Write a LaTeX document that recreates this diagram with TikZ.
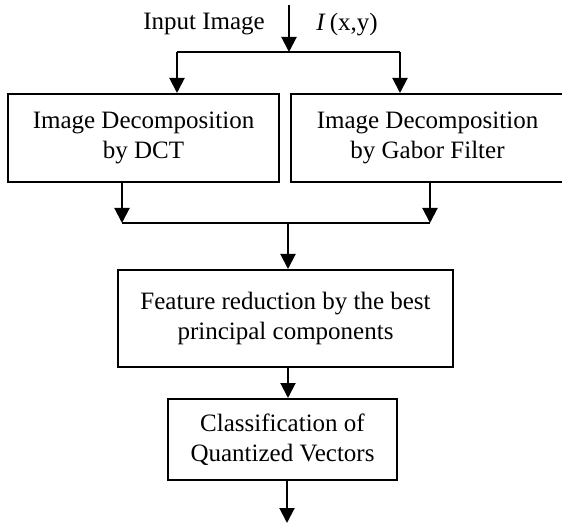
\documentclass[tikz,border=0pt]{standalone}
\usepackage{fontspec}
\setmainfont{Liberation Serif}
\usetikzlibrary{arrows.meta}
\begin{document}
\begin{tikzpicture}[x=1pt,y=-1pt,
  conn/.style={line width=2pt},
  arr/.style={conn,-{Triangle[length=15pt,width=15pt]}},
  blk/.style={draw,line width=2pt,align=center,inner sep=0pt,font=\fontsize{25}{30}\selectfont},
  lbl/.style={font=\fontsize{25}{30}\selectfont,inner sep=0pt}]
\clip (0,0) rectangle (562,526);
\node[blk,minimum width=271pt,minimum height=88pt] (dct) at (143.5,138) {Image Decomposition\\by DCT};
\node[blk,minimum width=273pt,minimum height=88pt] (gab) at (427.5,138) {Image Decomposition\\by Gabor Filter};
\node[blk,minimum width=335pt,minimum height=97pt] (fr) at (285.5,318.5) {Feature reduction by the best\\principal components};
\node[blk,minimum width=229pt,minimum height=81pt] (cl) at (282.5,439.5) {Classification of\\Quantized Vectors};
\node[lbl] (inlbl) at (204,24) {Input Image};
\node[lbl] (ixy) at (347,25) {\textit{I}\,(x,y)};
\coordinate (src) at (289,5);
\coordinate (sp) at (289,52);
\coordinate (spL) at (177,52);
\coordinate (spR) at (400,52);
\draw[arr] (src) -- (sp);
\draw[conn] (spL) -- (spR);
\draw[arr] (spL) -- (spL |- dct.north);
\draw[arr] (spR) -- (spR |- gab.north);
\coordinate (mL) at (122,223);
\coordinate (mR) at (430,223);
\coordinate (mC) at (288,223);
\draw[arr] (mL |- dct.south) -- (mL);
\draw[arr] (mR |- gab.south) -- (mR);
\draw[conn] (mL) -- (mR);
\draw[arr] (mC) -- (mC |- fr.north);
\draw[arr] (mC |- fr.south) -- (mC |- cl.north);
\coordinate (out) at (287,523);
\draw[arr] (out |- cl.south) -- (out);
\end{tikzpicture}
\end{document}
